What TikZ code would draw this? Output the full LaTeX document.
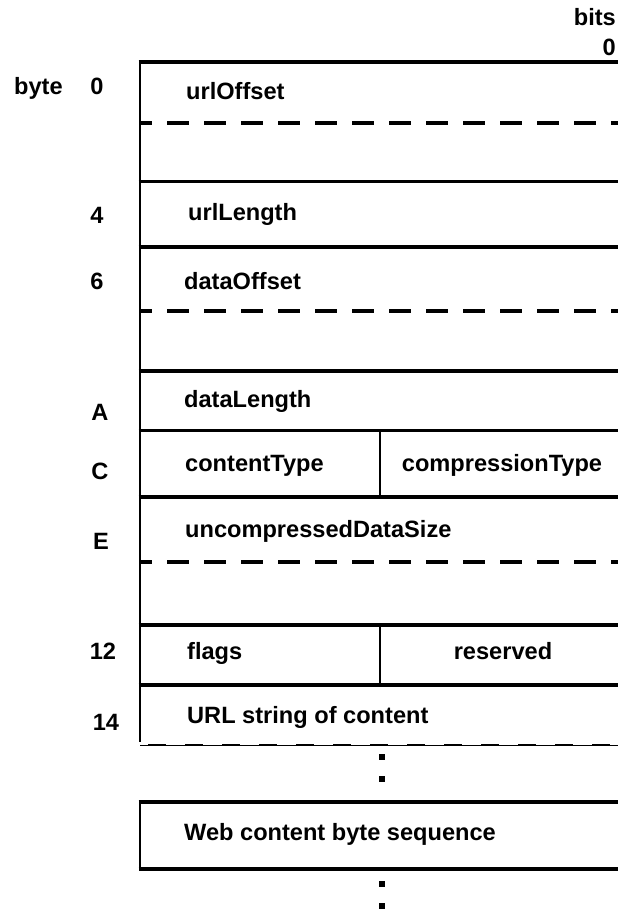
\documentclass[tikz,border=0pt]{standalone}
\usepackage{fontspec}
\setmainfont{Liberation Sans}
\begin{document}
\begin{tikzpicture}[x=1pt,y=-1pt,
  txt/.style={font=\bfseries\fontsize{23.6}{28}\selectfont, inner sep=0pt},
  field/.style={txt, anchor=base west},
  offset/.style={txt, anchor=base},
  rule/.style={line width=3.1pt},
  split/.style={line width=3.1pt, dash pattern=on 22pt off 15pt, dash phase=10pt},
  edge/.style={line width=2.6pt},
  divider/.style={line width=2.2pt},
  dot/.style={fill=black, minimum size=5.5pt, inner sep=0pt, draw=none, rectangle}]
\useasboundingbox (0,0) rectangle (618,911);

% column headings
\node[txt, anchor=base east] (bits) at (616,25) {bits};
\node[txt, anchor=base east] (bit0) at (616,55) {0};
\node[txt, anchor=base west] (byte) at (14,94) {byte};

% byte offsets
\node[offset] (o0)  at (97,94)  {0};
\node[offset] (o4)  at (97,223) {4};
\node[offset] (o6)  at (97,289) {6};
\node[offset] (oA)  at (100,420) {A};
\node[offset] (oC)  at (100,479) {C};
\node[offset] (oE)  at (101,549) {E};
\node[offset] (o12) at (103,659) {12};
\node[offset] (o14) at (106,730) {14};

% header fields
\node[field] (urlOffset)  at (186,99)  {urlOffset};
\node[field] (urlLength)  at (188,220) {urlLength};
\node[field] (dataOffset) at (184,289) {dataOffset};
\node[field] (dataLength) at (184,407) {dataLength};
\node[field] (contentType) at (185,471) {contentType};
\node[txt, anchor=base] (compressionType) at (502,471) {compressionType};
\node[field] (uncompressed) at (185,537) {uncompressedDataSize};
\node[field] (flags) at (187,659) {flags};
\node[txt, anchor=base] (reserved) at (503,659) {reserved};
\node[field] (url) at (187,723) {URL string of content};
\node[field] (web) at (184,840) {Web content byte sequence};

% left edge of the header block
\draw[edge] (140,62) -- (140,742);

% field boundaries
\foreach \y in {62,181.5,247,371,430.5,497,625,685}
  \draw[rule] (138.7,\y) -- (618,\y);
\foreach \y in {123,311,562}
  \draw[split] (140,\y) -- (618,\y);

% two-byte columns
\draw[divider] (380,430.5) -- (380,497);
\draw[divider] (380,625) -- (380,685);

% open end of the URL string
\draw[line width=0.9pt] (140,745) -- (618,745);
\draw[line width=2pt, dash pattern=on 18pt off 19pt, dash phase=-8pt] (140,745) -- (618,745);

% content block
\draw[rule] (138.7,802) -- (618,802);
\draw[rule] (138.7,869) -- (618,869);
\draw[edge] (140,802) -- (140,869);

% continuation marks
\node[dot] (d1) at (382,757) {};
\node[dot] (d2) at (382,779) {};
\node[dot] (d3) at (382,884) {};
\node[dot] (d4) at (382,906) {};
\end{tikzpicture}
\end{document}
